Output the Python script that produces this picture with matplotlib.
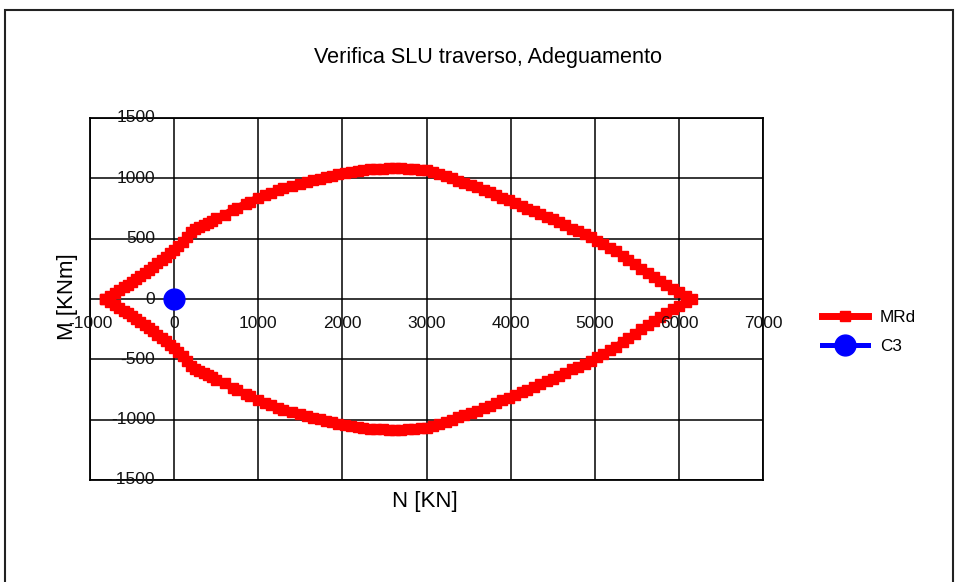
import matplotlib
matplotlib.use("Agg")
import matplotlib.pyplot as plt
from matplotlib.patches import Rectangle

plt.rcParams['font.family'] = ['Liberation Sans', 'DejaVu Sans']

# interaction domain, upper branch (N in KN, M in KNm)
n_upper = [-820, -760, -700, -650, -600, -550, -500, -450, -400, -350, -300,
           -250, -200, -150, -100, -50, 0, 50, 100, 150, 200, 250, 300, 350,
           400, 450, 500, 600, 700, 750, 850, 900, 1000, 1080, 1150, 1230, 1300,
           1400, 1500, 1580, 1650, 1730, 1800, 1880, 1950, 2030, 2100, 2180,
           2250, 2330, 2400, 2480, 2550, 2630, 2700, 2780, 2850, 2930, 3000,
           3080, 3150, 3230, 3300, 3380, 3450, 3530, 3600, 3680, 3750, 3830,
           3900, 3980, 4050, 4130, 4200, 4280, 4350, 4430, 4500, 4580, 4650,
           4730, 4800, 4880, 4950, 5030, 5100, 5180, 5250, 5330, 5400, 5480,
           5550, 5630, 5700, 5780, 5850, 5930, 6000, 6080, 6160]
m_upper = [0, 26, 52, 75, 97, 119, 141, 164, 187, 213, 240,
           268, 295, 322, 350, 378, 406, 440, 475, 515, 555, 580, 600, 615,
           630, 650, 668, 700, 740, 757, 790, 808, 838, 860, 880, 900, 920,
           940, 955, 970, 983, 996, 1008, 1022, 1035, 1046, 1055, 1062,
           1068, 1074, 1078, 1081, 1083, 1083, 1083, 1081, 1078, 1072, 1065,
           1053, 1040, 1020, 1000, 980, 960, 943, 925, 905, 885, 862,
           840, 818, 795, 772, 750, 728, 705, 683, 660, 634, 610,
           584, 560, 535, 510, 483, 455, 425, 395, 360, 325, 287,
           250, 215, 180, 148, 115, 85, 55, 28, 0]

# lower branch, back from the right tip to the left tip
n_lower = n_upper[::-1]
m_lower = [-m for m in m_upper[::-1]]

# design load point
c3_n = [0]
c3_m = [0]

x_ticks = [-1000, 0, 1000, 2000, 3000, 4000, 5000, 6000, 7000]
y_ticks = [-1500, -1000, -500, 0, 500, 1000, 1500]

fig = plt.figure(figsize=(9.58, 5.82), dpi=100)
ax = fig.add_axes([90 / 958, 1 - 480 / 582, 673 / 958, 362 / 582])

mrd_line, = ax.plot(n_upper + n_lower[1:], m_upper + m_lower[1:], color='#ff0000',
                    lw=5, marker='s', ms=7.5, mec='#ff0000', mfc='#ff0000',
                    label='MRd', zorder=3)
c3_line, = ax.plot(c3_n, c3_m, color='#0000ff', lw=3.6, marker='o', ms=15,
                   label='C3', zorder=4)

ax.set_xlim(-1000, 7000)
ax.set_ylim(-1500, 1500)
ax.set_xticks(x_ticks)
ax.set_yticks(y_ticks)
ax.grid(True, color='black', lw=1.1)
ax.tick_params(length=0, labelbottom=False, labelleft=False)
for sp in ax.spines.values():
    sp.set_linewidth(1.3)

# tick labels sit on the axes crossing at zero
for v in x_ticks:
    ax.annotate(str(v), xy=(v, 0), xytext=(0, -25 * 0.72), textcoords='offset points',
                ha='center', va='center', fontsize=12.5, color='#111111', zorder=5)
for v in y_ticks:
    ax.annotate(str(v), xy=(0, v), xytext=(-19 * 0.72, 0), textcoords='offset points',
                ha='right', va='center', fontsize=12.5, color='#111111', zorder=5)

fig.text(488 / 958, 1 - 57 / 582, 'Verifica SLU traverso, Adeguamento',
         ha='center', va='center', fontsize=15.6)
fig.text(425 / 958, 1 - 502 / 582, 'N [KN]', ha='center', va='center', fontsize=16)
fig.text(68 / 958, 1 - 297 / 582, 'M [KNm]', ha='center', va='center',
         rotation=90, fontsize=16)

fig.legend(handles=[mrd_line, c3_line], loc='center left',
           bbox_to_anchor=(822 / 958, 1 - 332 / 582), frameon=False,
           fontsize=12.3, handlelength=2.7, handletextpad=0.7,
           labelspacing=0.8, borderpad=0, borderaxespad=0)

# chart frame
fig.patches.append(Rectangle((5 / 958, -0.1), 948 / 958, 1.1 - 10 / 582,
                             transform=fig.transFigure, fill=False,
                             ec='#222222', lw=1.5))

fig.savefig('out.png', dpi=100)
